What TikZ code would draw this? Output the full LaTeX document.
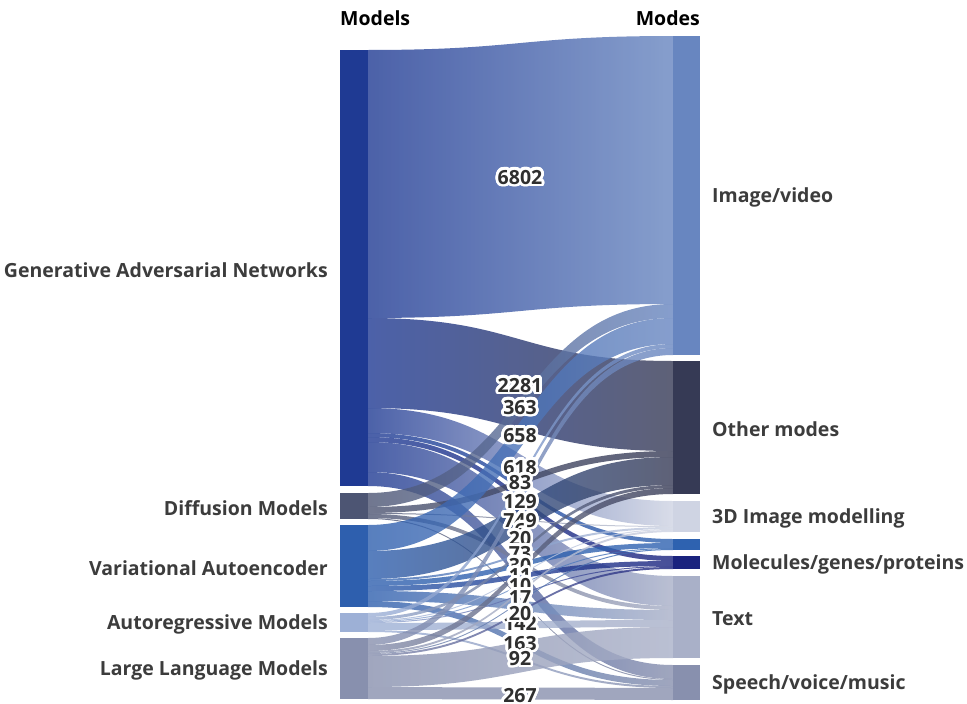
\documentclass[tikz,border=0pt]{standalone}
\usepackage{fontspec}
\setmainfont{Open Sans}
\usepackage{contour}
\contourlength{2.7pt}
\contournumber{32}
\usetikzlibrary{positioning}

% node colours
\definecolor{cgan}{HTML}{1F3A93}
\definecolor{cdif}{HTML}{4D5573}
\definecolor{cvae}{HTML}{2E5FAE}
\definecolor{caut}{HTML}{9DB0D6}
\definecolor{cllm}{HTML}{8890AE}
\definecolor{cimg}{HTML}{6886C0}
\definecolor{coth}{HTML}{363A55}
\definecolor{ctdi}{HTML}{CFD4E3}
\definecolor{cblu}{HTML}{2E62B0}
\definecolor{cmol}{HTML}{1A237E}
\definecolor{ctxt}{HTML}{A9B0C8}
\definecolor{cspe}{HTML}{8890AE}
\definecolor{labgray}{HTML}{3C3C3C}
\definecolor{valgray}{HTML}{2F2F2F}

\tikzset{
  lbar/.style={inner sep=0pt, outer sep=0pt, minimum width=28pt, anchor=north west},
  rbar/.style={inner sep=0pt, outer sep=0pt, minimum width=27pt, anchor=north west},
  lab/.style={font=\bfseries\fontsize{19.5}{19.5}\selectfont, text=labgray, inner sep=0pt, yshift=-2pt},
  hdr/.style={font=\bfseries\fontsize{19.5}{19.5}\selectfont, text=black, inner sep=0pt},
  val/.style={font=\bfseries\fontsize{19.5}{19.5}\selectfont, text=valgray, inner sep=0pt, yshift=-1.5pt},
}

% band from #1 (offset #2) to #3 (offset #4), width #5
\newcommand{\flow}[5]{%
  \shade[left color=c#1, right color=c#3, fill opacity=0.8]
    ([yshift=-#2pt]#1.north east) .. controls +(152.5,0) and +(-152.5,0) .. ([yshift=-#4pt]#3.north west)
    -- ([yshift=-#4pt-#5pt]#3.north west) .. controls +(-152.5,0) and +(152.5,0) .. ([yshift=-#2pt-#5pt]#1.north east) -- cycle;}

\begin{document}
\begin{tikzpicture}[x=1pt,y=-1pt]
\useasboundingbox (0,0) rectangle (967,704);

% headers
\node[hdr, anchor=west] (hmodels) at (340,18) {Models};
\node[hdr, anchor=east] (hmodes) at (700,18) {Modes};

% models
\node[lbar, fill=cgan, minimum height=436pt] (gan) at (340,50) {};
\node[lbar, fill=cdif, minimum height=26pt] (dif) at (340,493) {};
\node[lbar, fill=cvae, minimum height=82pt] (vae) at (340,525) {};
\node[lbar, fill=caut, minimum height=19pt] (aut) at (340,613) {};
\node[lbar, fill=cllm, minimum height=61pt] (llm) at (340,638) {};

% modes
\node[rbar, fill=cimg, minimum height=319pt] (img) at (673,36) {};
\node[rbar, fill=coth, minimum height=133pt] (oth) at (673,361) {};
\node[rbar, fill=ctdi, minimum height=31pt] (tdi) at (673,501) {};
\node[rbar, fill=cblu, minimum height=11pt] (blu) at (673,539) {};
\node[rbar, fill=cmol, minimum height=13pt] (mol) at (673,556) {};
\node[rbar, fill=ctxt, minimum height=82pt] (txt) at (673,576) {};
\node[rbar, fill=cspe, minimum height=35pt] (spe) at (673,665) {};

\node[lab, left=12pt of gan] {Generative Adversarial Networks};
\node[lab, left=12pt of dif] {Diffusion Models};
\node[lab, left=12pt of vae] {Variational Autoencoder};
\node[lab, left=12pt of aut] {Autoregressive Models};
\node[lab, left=12pt of llm] {Large Language Models};
\node[lab, right=12pt of img] {Image/video};
\node[lab, right=12pt of oth] {Other modes};
\node[lab, right=12pt of tdi] {3D Image modelling};
\node[lab, right=12pt of mol] {Molecules/genes/proteins};
\node[lab, right=12pt of txt] {Text};
\node[lab, right=12pt of spe] {Speech/voice/music};

% GAN
\flow{gan}{0}{img}{0}{268}
\flow{gan}{268}{oth}{0}{90}
\flow{gan}{358}{tdi}{0}{25}
\flow{gan}{383}{blu}{0}{4}
\flow{gan}{387}{mol}{0}{5}
\flow{gan}{392}{txt}{0}{30}
\flow{gan}{422}{spe}{0}{14}
% diffusion
\flow{dif}{0}{img}{268}{14}
\flow{dif}{14}{oth}{90}{6}
\flow{dif}{20}{tdi}{25}{1}
\flow{dif}{21}{txt}{30}{4}
\flow{dif}{25}{spe}{14}{1}
% VAE
\flow{vae}{0}{img}{282}{26}
\flow{vae}{26}{oth}{96}{28}
\flow{vae}{54}{tdi}{26}{2}
\flow{vae}{56}{blu}{4}{5}
\flow{vae}{61}{mol}{5}{5}
\flow{vae}{66}{txt}{34}{10}
\flow{vae}{76}{spe}{15}{6}
% autoregressive
\flow{aut}{0}{img}{308}{4}
\flow{aut}{4}{oth}{124}{3}
\flow{aut}{7}{tdi}{28}{1}
\flow{aut}{8}{blu}{9}{1}
\flow{aut}{9}{mol}{10}{1}
\flow{aut}{10}{txt}{44}{7}
\flow{aut}{17}{spe}{21}{2}
% LLM
\flow{llm}{0}{img}{312}{7}
\flow{llm}{7}{oth}{127}{6}
\flow{llm}{13}{tdi}{29}{2}
\flow{llm}{15}{blu}{10}{1}
\flow{llm}{16}{mol}{11}{2}
\flow{llm}{18}{txt}{51}{31}
\flow{llm}{49}{spe}{23}{12}

% values
\node[val] (v1) at (520,177) {\contour{white}{6802}};
\node[val] (v2) at (520,385) {\contour{white}{2281}};
\node[val] (v3) at (520,407) {\contour{white}{363}};
\node[val] (v4) at (520,435) {\contour{white}{658}};
\node[val] (v5) at (520,467) {\contour{white}{618}};
\node[val] (v6) at (520,482) {\contour{white}{83}};
\node[val] (v7) at (520,501) {\contour{white}{129}};
\node[val] (v8) at (520,520) {\contour{white}{749}};
\node[val] (v9) at (520,530) {\contour{white}{6}};
\node[val] (v10) at (520,538) {\contour{white}{20}};
\node[val] (v11) at (520,553) {\contour{white}{73}};
\node[val] (v12) at (520,565) {\contour{white}{30}};
\node[val] (v13) at (520,575) {\contour{white}{11}};
\node[val] (v14) at (520,585) {\contour{white}{10}};
\node[val] (v15) at (520,597) {\contour{white}{17}};
\node[val] (v16) at (520,623) {\contour{white}{142}};
\node[val] (v17) at (520,613) {\contour{white}{20}};
\node[val] (v18) at (520,643) {\contour{white}{163}};
\node[val] (v19) at (520,658) {\contour{white}{92}};
\node[val] (v20) at (520,695) {\contour{white}{267}};
\end{tikzpicture}
\end{document}
